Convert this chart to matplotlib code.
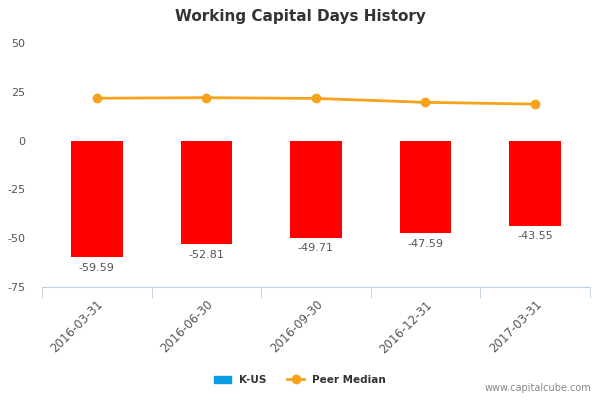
import matplotlib
matplotlib.use("Agg")
import matplotlib.pyplot as plt
from matplotlib.lines import Line2D
from matplotlib.patches import Patch

categories = ["2016-03-31", "2016-06-30", "2016-09-30", "2016-12-31", "2017-03-31"]
k_us = [-59.59, -52.81, -49.71, -47.59, -43.55]
peer_median = [21.7, 22.0, 21.6, 19.6, 18.7]
yticks = [50, 25, 0, -25, -50, -75]

fig = plt.figure(figsize=(6, 4), dpi=100)
ax = fig.add_axes([0.07, 0.2825, 0.913, 0.61])
x = range(len(categories))
ax.bar(x, k_us, width=0.47, color="#ff0000", zorder=2)
ax.plot(x, peer_median, color="#f7a21b", lw=2, marker="o", ms=6, zorder=3)
for i, v in enumerate(k_us):
    ax.text(i, v - 3, f"{v:.2f}", ha="center", va="top", fontsize=8, color="#555555")
ax.set_xlim(-0.5, len(categories) - 0.5)
ax.set_ylim(-75, 50)
ax.set_yticks(yticks)
ax.set_yticklabels([str(t) for t in yticks], fontsize=8, color="#555555")
ax.set_xticks(list(x))
ax.set_xticklabels(categories, rotation=45, ha="right", rotation_mode="anchor", fontsize=8.5, color="#555555")
ax.set_xticks([i - 0.5 for i in range(len(categories) + 1)], minor=True)
ax.tick_params(axis="x", which="major", length=0, pad=8)
ax.tick_params(axis="x", which="minor", length=8, color="#c0d0e0")
ax.tick_params(axis="y", length=0, pad=12)
for s in ["top", "right", "left"]:
    ax.spines[s].set_visible(False)
ax.spines["bottom"].set_color("#c0d0e0")
fig.text(0.5, 0.96, "Working Capital Days History", ha="center", va="center", fontsize=11, fontweight="bold", color="#333333")
handles = [Patch(color="#0a9ee6", label="K-US"),
           Line2D([0], [0], color="#f7a21b", lw=2, marker="o", ms=6, label="Peer Median")]
leg = fig.legend(handles=handles, loc="center", bbox_to_anchor=(0.5, 0.05), ncol=2, frameon=False,
                 prop={"size": 7.5, "weight": "bold"}, handlelength=1.6, columnspacing=2)
for t in leg.get_texts():
    t.set_color("#333333")
fig.text(0.985, 0.017, "www.capitalcube.com", ha="right", va="bottom", fontsize=7, color="#888888")
fig.savefig("out.png", dpi=100)
